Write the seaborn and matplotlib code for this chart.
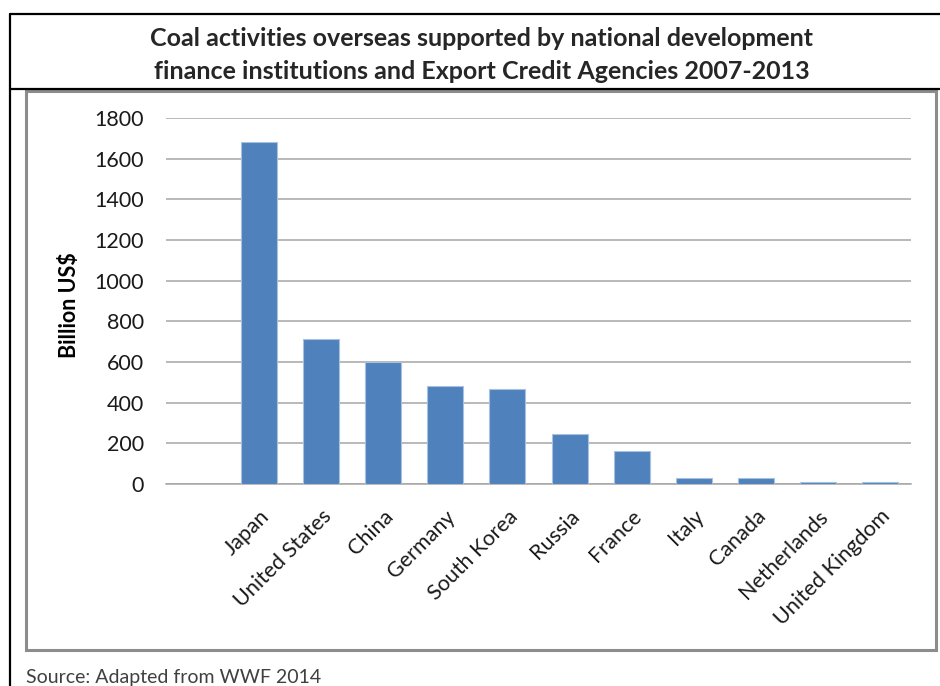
import matplotlib
matplotlib.use("Agg")
import matplotlib.pyplot as plt
import seaborn as sns
import pandas as pd
from matplotlib.lines import Line2D
from matplotlib.patches import Rectangle

countries = ["Japan", "United States", "China", "Germany", "South Korea", "Russia",
             "France", "Italy", "Canada", "Netherlands", "United Kingdom"]
values = [1680, 715, 600, 480, 465, 248, 160, 30, 30, 8, 8]
yticks = [0, 200, 400, 600, 800, 1000, 1200, 1400, 1600, 1800]
title = "Coal activities overseas supported by national development\nfinance institutions and Export Credit Agencies 2007-2013"
ylabel = "Billion US$"
source = "Source: Adapted from WWF 2014"

df = pd.DataFrame({"country": countries, "value": values})

sns.set_theme(style="white")
plt.rcParams['font.family'] = ['Lato', 'DejaVu Sans']

W, H = 940, 686
fig = plt.figure(figsize=(W / 100, H / 100), dpi=100)

def fx(px):
    return px / W

def fy(py):
    return 1 - py / H

# Outer black frame lines
for (x0, y0, x1, y1) in [(10, 14, 940, 14), (10, 14, 10, 686), (10, 89, 940, 89)]:
    fig.add_artist(Line2D([fx(x0), fx(x1)], [fy(y0), fy(y1)], color="black", lw=1.6,
                          transform=fig.transFigure))

# Gray plot frame
fig.add_artist(Rectangle((fx(26), fy(650)), fx(936) - fx(26), fy(91) - fy(650),
                         transform=fig.transFigure, fill=False, edgecolor="#8c8c8c", lw=2.2))

ax = fig.add_axes([fx(166), fy(484), fx(911) - fx(166), fy(118) - fy(484)])
sns.barplot(data=df, x="country", y="value", order=countries, color="#4F81BD",
            width=0.58, saturation=1, edgecolor="#a9c1e0", linewidth=0.8, ax=ax, zorder=3)

ax.set_xlim(-1.5, 10.5)
ax.set_ylim(0, 1800)
ax.set_yticks(yticks)
ax.set_yticklabels([str(t) for t in yticks], fontsize=15.5, color="#1a1a1a")
ax.yaxis.grid(True, color="#a6a6a6", lw=1.1)
ax.set_axisbelow(True)
for s in ["top", "right", "left"]:
    ax.spines[s].set_visible(False)
ax.spines["bottom"].set_color("#a6a6a6")
ax.spines["bottom"].set_linewidth(1.1)
ax.tick_params(axis="y", length=0, pad=16)
ax.tick_params(axis="x", length=0, pad=16)
ax.set_xticks(range(len(countries)))
ax.set_xticklabels(countries, rotation=45, ha="right", va="top", rotation_mode="anchor",
                   fontsize=15.5, color="#1a1a1a")
ax.set_xlabel("")
ax.set_ylabel("")
ax.set_facecolor("white")

fig.text(fx(69), fy(305), ylabel, rotation=90, ha="center", va="center",
         fontsize=15.5, fontweight="bold", color="black")

fig.text(fx(482), fy(55), title, ha="center", va="center", fontsize=18,
         fontweight="bold", color="#262626", linespacing=1.5)

fig.text(fx(26), fy(678), source, ha="left", va="center", fontsize=14, color="#404040")

fig.savefig("out.png", dpi=100, facecolor="white")
